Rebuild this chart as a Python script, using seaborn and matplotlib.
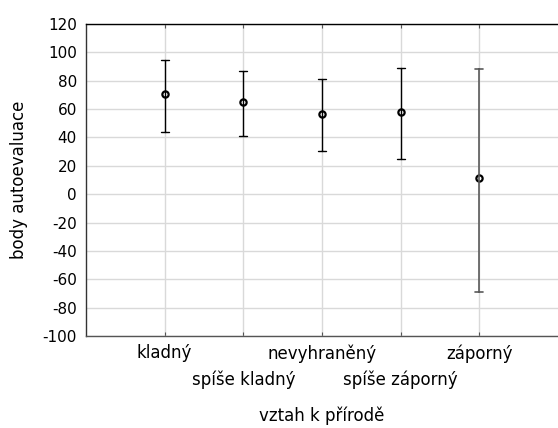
import matplotlib
matplotlib.use("Agg")
import matplotlib.pyplot as plt
import seaborn as sns
import pandas as pd
import numpy as np

# Category labels (attitude towards nature)
categories = ["kladný", "spíše kladný", "nevyhraněný", "spíše záporný", "záporný"]
# Group means and interval bounds of self-evaluation points
means = [70.4, 65.0, 56.5, 58.0, 11.4]
lower = [44.1, 41.0, 30.7, 24.6, -69.2]
upper = [94.6, 86.6, 81.0, 89.2, 88.3]
y_ticks = list(range(-100, 121, 20))

# Long-form table: for each category the lower bound, mean and upper bound.
# The median of the three is the mean, the full range is the interval.
rows = []
for c, lo, m, hi in zip(categories, lower, means, upper):
    for v in (lo, m, hi):
        rows.append({"vztah": c, "body": v})
df = pd.DataFrame(rows)

sns.set_style("white")
plt.rcParams["font.family"] = ["DejaVu Sans"]
plt.rcParams["text.color"] = "black"
plt.rcParams["axes.labelcolor"] = "black"
FS_NUM = 11
FS_TXT = 12

fig = plt.figure(figsize=(5.58, 4.28), dpi=100)
ax = fig.add_axes([0.154, 0.215, 0.846, 0.729])

sns.pointplot(
    data=df, x="vztah", y="body", order=categories,
    estimator="median", errorbar=("pi", 100),
    linestyle="none", marker="o", color="black",
    capsize=0.1, err_kws={"linewidth": 1.0},
    markersize=4.5, markerfacecolor="white", markeredgewidth=1.6,
    ax=ax,
)

# the widest interval (last category) is drawn in a softer grey
for ln in ax.lines:
    xd = np.asarray(ln.get_xdata(), dtype=float)
    xd = xd[np.isfinite(xd)]
    if ln.get_marker() in ("o",):
        continue
    if xd.size and np.all(np.abs(xd - 4) < 0.2):
        ln.set_color("#5a5a5a")
        ln.set_linewidth(1.2)

ax.set_xlim(-1, 5)
ax.set_ylim(-100, 120)
ax.set_yticks(y_ticks)
ax.set_yticklabels([str(t) for t in y_ticks])
ax.grid(True, color="#d9d9d9", linewidth=1.0)
ax.set_axisbelow(True)

ax.tick_params(axis="y", length=0, pad=6.5, labelsize=FS_NUM, colors="black")
ax.tick_params(axis="x", direction="in", length=3, top=True, bottom=True,
               labelsize=FS_TXT, width=0.8, colors="#555555", labelcolor="black")
for i, tick in enumerate(ax.xaxis.get_major_ticks()):
    tick.set_pad(6 if i % 2 == 0 else 25)

for side in ("top", "left", "bottom"):
    ax.spines[side].set_visible(True)
    ax.spines[side].set_linewidth(1.0)
ax.spines["top"].set_color("black")
ax.spines["left"].set_color("#333333")
ax.spines["bottom"].set_color("#555555")
ax.spines["right"].set_visible(False)

ax.set_xlabel("vztah k přírodě", fontsize=FS_TXT, color="black")
ax.set_ylabel("body autoevaluace", fontsize=FS_TXT, color="black")
ax.xaxis.set_label_coords(0.5, -0.225)
ax.yaxis.set_label_coords(-0.123, 0.5)

fig.savefig("out.png", dpi=100)
